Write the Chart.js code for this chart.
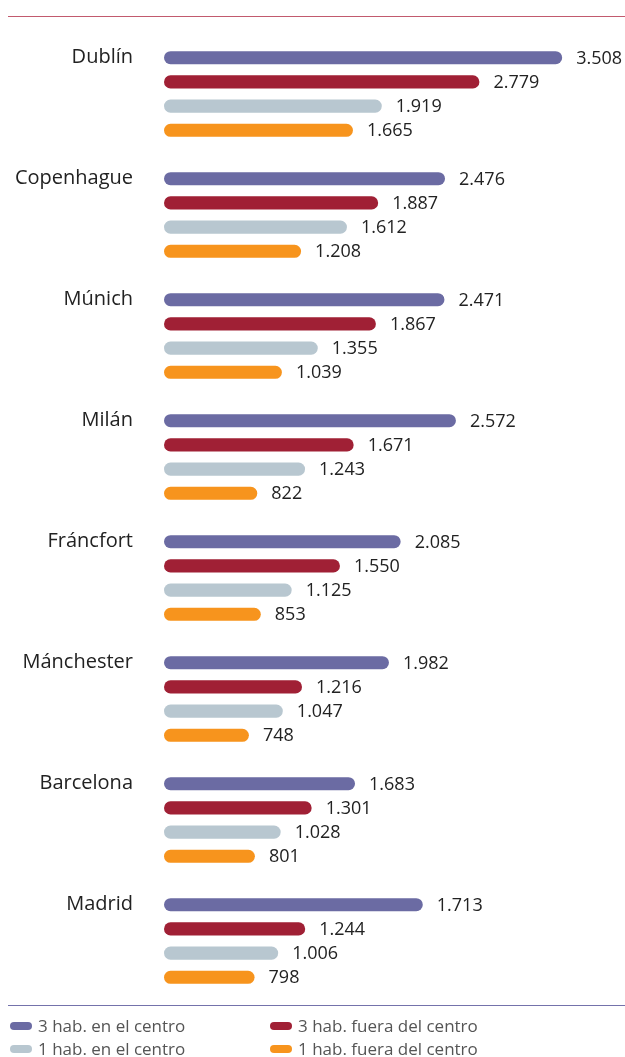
<!DOCTYPE html>
<html>
<head>
<meta charset="utf-8">
<script src="https://cdn.jsdelivr.net/npm/chart.js@4/dist/chart.umd.min.js"></script>
<style>
  body { margin: 0; background: #fff; font-family: "Open Sans", sans-serif; }
  #wrap { position: relative; width: 625px; height: 1057px; }
  canvas { position: absolute; left: 0; top: 0; }
  .rule { position: absolute; left: 8px; right: 0; height: 1px; }
  .legend { position: absolute; font-size: 17px; color: #555; white-space: nowrap; }
  .legend span.mk { display: inline-block; width: 22px; height: 8px; border-radius: 4px; margin-right: 6px; vertical-align: middle; position: relative; top: -1px; }
</style>
</head>
<body>
<div id="wrap">
  <div class="rule" style="top:16px;background:#c25a6e"></div>
  <canvas id="bar-chart" width="625" height="1057"></canvas>
  <div class="rule" style="top:1005px;background:#7472ab"></div>
  <div id="legend"></div>
</div>
<script>
var cities = ['Dublín', 'Copenhague', 'Múnich', 'Milán', 'Fráncfort', 'Mánchester', 'Barcelona', 'Madrid']
var seriesNames = ['3 hab. en el centro', '3 hab. fuera del centro', '1 hab. en el centro', '1 hab. fuera del centro']
var colors = ['#6b6ba3', '#a02035', '#b8c7d0', '#f7941d']

// printed values
var threeCentre = [3508, 2476, 2471, 2572, 2085, 1982, 1683, 1713]
var threeOutside = [2779, 1887, 1867, 1671, 1550, 1216, 1301, 1244]
var oneCentre = [1919, 1612, 1355, 1243, 1125, 1047, 1028, 1006]
var oneOutside = [1665, 1208, 1039, 822, 853, 748, 801, 798]

// in the source the Madrid "3 hab. en el centro" bar is drawn longer than its label says
var madridThreeCentreDrawn = 2280

var allSeries = [threeCentre, threeOutside, oneCentre, oneOutside]

function fmt(v) {
  return String(v).replace(/\B(?=(\d{3})+(?!\d))/g, '.')
}

function barData(d, i) {
  if (i !== 0) return d
  return d.map(function (v, j) { return cities[j] === 'Madrid' ? madridThreeCentreDrawn : v })
}

// value labels next to each bar, city name level with the first bar of its group
var textLabels = {
  id: 'textLabels',
  afterDatasetsDraw(chart) {
    var ctx = chart.ctx
    ctx.save()
    ctx.fillStyle = '#222'
    ctx.textBaseline = 'middle'
    ctx.font = '18px "Open Sans"'
    ctx.textAlign = 'left'
    chart.data.datasets.forEach(function (ds, i) {
      chart.getDatasetMeta(i).data.forEach(function (bar, j) {
        ctx.fillText(fmt(allSeries[i][j]), bar.x + 14, bar.y + 1)
      })
    })
    ctx.font = '20px "Open Sans"'
    ctx.textAlign = 'right'
    chart.getDatasetMeta(0).data.forEach(function (bar, j) {
      ctx.fillText(cities[j], chart.chartArea.left - 31, bar.y)
    })
    ctx.restore()
  }
}

var ctx = document.getElementById('bar-chart').getContext('2d')
var chart = new Chart(ctx, {
  type: 'bar',
  data: {
    labels: cities,
    datasets: allSeries.map(function (d, i) {
      return {
        label: seriesNames[i],
        data: barData(d, i),
        backgroundColor: colors[i],
        borderRadius: 7,
        borderSkipped: false,
        categoryPercentage: 0.8,
        barPercentage: 0.54
      }
    })
  },
  options: {
    indexAxis: 'y',
    responsive: false,
    animation: false,
    layout: { padding: { top: 33.5, bottom: 55.5, right: 7, left: 164 } },
    plugins: { legend: { display: false }, tooltip: { enabled: false } },
    scales: {
      x: { display: false, min: 0, max: 4000 },
      y: { display: false }
    }
  },
  plugins: [textLabels]
})

// legend in two columns
var legendPos = [[10, 1026], [270, 1026], [10, 1049], [270, 1049]]
var legendEl = document.getElementById('legend')
seriesNames.forEach(function (name, i) {
  var d = document.createElement('div')
  d.className = 'legend'
  d.style.left = legendPos[i][0] + 'px'
  d.style.top = (legendPos[i][1] - 12) + 'px'
  d.innerHTML = '<span class="mk" style="background:' + colors[i] + '"></span>' + name
  legendEl.appendChild(d)
})
</script>
</body>
</html>
